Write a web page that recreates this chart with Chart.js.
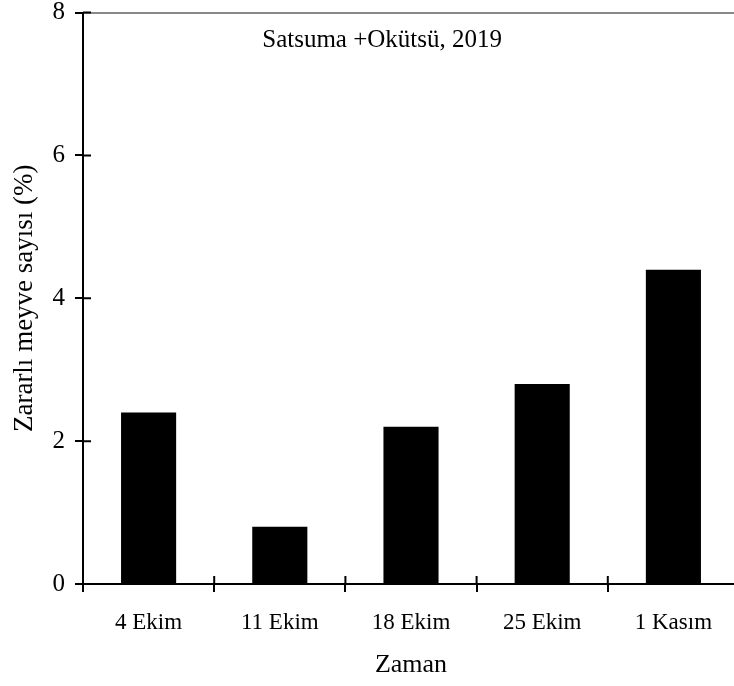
<!DOCTYPE html>
<html>
<head>
<meta charset="utf-8">
<script src="https://cdn.jsdelivr.net/npm/chart.js@4.4.1/dist/chart.umd.min.js"></script>
<style>
  html, body { margin: 0; padding: 0; background: #fff; overflow: hidden; }
  #wrap { width: 739px; height: 686px; }
</style>
</head>
<body>
<div id="wrap"><canvas id="chart" width="739" height="686"></canvas></div>
<script>
// Satsuma + Okütsü, 2019 — zararlı meyve oranı
const dates = ['4 Ekim', '11 Ekim', '18 Ekim', '25 Ekim', '1 Kasım'];
const damagedPct = [2.4, 0.8, 2.2, 2.8, 4.4];
const yTicks = [0, 2, 4, 6, 8];

const chartTitle = 'Satsuma +Okütsü, 2019';
const serif = "'Liberation Serif', 'Times New Roman', serif";

// ticks crossing the axes (inner half), like in the original figure
const crossTicks = {
  id: 'crossTicks',
  afterDraw(chart) {
    const { ctx, scales: { x, y }, chartArea } = chart;
    ctx.save();
    ctx.strokeStyle = '#000';
    ctx.lineWidth = 2;
    ctx.beginPath();
    yTicks.forEach(v => {
      const py = y.getPixelForValue(v);
      ctx.moveTo(chartArea.left, py);
      ctx.lineTo(chartArea.left + 8, py);
    });
    for (let i = 0; i <= dates.length; i++) {
      const px = x.getPixelForValue(i - 0.5);
      ctx.moveTo(px, chartArea.bottom);
      ctx.lineTo(px, chartArea.bottom - 8);
    }
    ctx.stroke();

    // title inside the plot
    ctx.fillStyle = '#000';
    ctx.font = '25px ' + serif;
    ctx.textAlign = 'center';
    ctx.textBaseline = 'alphabetic';
    ctx.fillText(chartTitle, x.getPixelForValue(1.78), chartArea.top + 34);
    ctx.restore();
  }
};

new Chart(document.getElementById('chart'), {
  type: 'bar',
  data: {
    labels: dates,
    datasets: [{
      data: damagedPct,
      backgroundColor: '#000',
      borderWidth: 0,
      categoryPercentage: 1.0,
      barPercentage: 0.42
    }]
  },
  options: {
    responsive: false,
    animation: false,
    layout: { padding: 0 },
    plugins: { legend: { display: false }, tooltip: { enabled: false } },
    scales: {
      x: {
        grid: { offset: true, drawOnChartArea: false, tickLength: 8, color: '#000', lineWidth: 2 },
        border: { color: '#000', width: 2 },
        ticks: { color: '#000', font: { family: serif, size: 23 }, padding: 17 },
        title: { display: true, text: 'Zaman', color: '#000', font: { family: serif, size: 26 }, padding: { top: 4, bottom: 5 } },
        afterFit(s) { s.height = 102; s.paddingLeft = 0; s.paddingRight = 0; }
      },
      x2: {
        position: 'top',
        grid: { display: false },
        ticks: { display: false },
        border: { color: '#888', width: 2 },
        afterFit(s) { s.height = 0; }
      },
      y: {
        min: 0,
        max: 8,
        afterBuildTicks(s) { s.ticks = yTicks.map(v => ({ value: v })); },
        grid: { drawOnChartArea: false, tickLength: 8, color: '#000', lineWidth: 2 },
        border: { color: '#000', width: 2 },
        ticks: { color: '#000', font: { family: serif, size: 25 }, padding: 10 },
        title: { display: true, text: 'Zararlı meyve sayısı (%)', color: '#000', font: { family: serif, size: 27 }, padding: { top: 9, bottom: 4 } },
        afterFit(s) { s.width = 83; s.paddingTop = 12.5; s.paddingBottom = 0; }
      }
    }
  },
  plugins: [crossTicks]
});
</script>
</body>
</html>
